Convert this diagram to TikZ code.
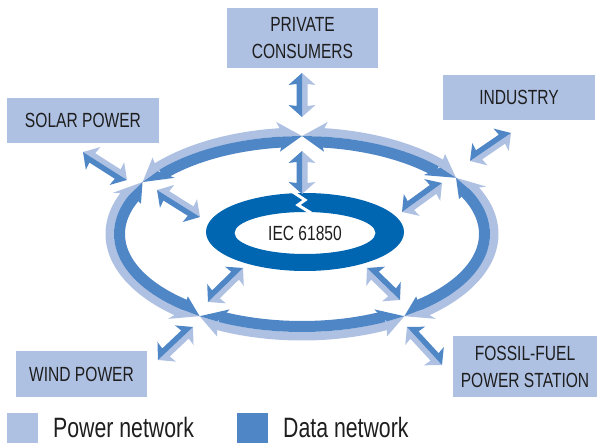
\documentclass[tikz,border=0pt]{standalone}
\usepackage{fontspec}
\setmainfont{Liberation Sans}[FakeStretch=0.76]
\usetikzlibrary{calc}
\definecolor{pw}{HTML}{AFC1E3}
\definecolor{dn}{HTML}{4F86C6}
\definecolor{iec}{HTML}{0066B1}
\definecolor{ink}{HTML}{1E1E1E}
\tikzset{
  lbl/.style={fill=pw, text=ink, inner sep=0pt, align=center, font=\fontsize{20.5bp}{27bp}\selectfont},
  legendtext/.style={anchor=base west, text=ink, inner sep=0pt, font=\fontsize{28bp}{30bp}\selectfont},
}
% two-tone double arrow: light on the right when facing from #1 to #2
\newcommand{\duoarrow}[2]{%
  \fill[pw] (#1) -- ($(#1)!12bp!(#2)!13.5bp!-90:(#2)$) -- ($(#1)!11bp!(#2)!5.5bp!-90:(#2)$)
    -- ($(#2)!11bp!(#1)!5.5bp!90:(#1)$) -- ($(#2)!12bp!(#1)!13.5bp!90:(#1)$) -- (#2) -- cycle;
  \fill[dn] (#1) -- ($(#1)!12bp!(#2)!13.5bp!90:(#2)$) -- ($(#1)!11bp!(#2)!5.5bp!90:(#2)$)
    -- ($(#2)!11bp!(#1)!5.5bp!-90:(#1)$) -- ($(#2)!12bp!(#1)!13.5bp!-90:(#1)$) -- (#2) -- cycle;
}
% ring shaft between two angles
\newcommand{\ringarc}[2]{%
  \draw[pw, line width=8.5bp] plot[domain=#1:#2, samples=50] ({302+192.25*cos(\x)},{234+102.25*sin(\x)});
  \draw[dn, line width=11bp] plot[domain=#1:#2, samples=50] ({302+182.5*cos(\x)},{234+92.5*sin(\x)});
}
% ring arrow head: #1 tip angle, #2 back centre angle, #3 barb angle
\newcommand{\ringhead}[3]{%
  \fill[pw] ({302+188*cos(#1)},{234+98*sin(#1)}) -- ({302+203*cos(#3)},{234+113*sin(#3)})
    -- ({302+188*cos(#2)},{234+98*sin(#2)}) -- cycle;
  \fill[dn] ({302+188*cos(#1)},{234+98*sin(#1)}) -- ({302+173*cos(#3)},{234+83*sin(#3)})
    -- ({302+188*cos(#2)},{234+98*sin(#2)}) -- cycle;
}
\begin{document}
\begin{tikzpicture}[x=1bp, y=-1bp]
\useasboundingbox (0,0) rectangle (597,443);

% big ring (power + data network)
\ringarc{-84.5}{-42.7}
\ringarc{-27.3}{50.8}
\ringarc{63.2}{116.8}
\ringarc{129.2}{204.1}
\ringarc{219.9}{264.5}
\ringhead{-90}{-84.5}{-82.7}
\ringhead{-35}{-42.7}{-45.2}
\ringhead{-35}{-27.3}{-24.8}
\ringhead{57}{50.8}{48.7}
\ringhead{57}{63.2}{65.3}
\ringhead{123}{116.8}{114.7}
\ringhead{123}{129.2}{131.3}
\ringhead{212}{204.1}{201.4}
\ringhead{212}{219.9}{222.6}
\ringhead{270}{264.5}{262.7}

% IEC ring
\fill[iec, even odd rule] (305,232) ellipse [x radius=99bp, y radius=39bp]
  (305,233) ellipse [x radius=70.5bp, y radius=21bp];
\draw[white, line width=3bp, line join=miter] (293,192) -- (305,200) -- (298,205) -- (311,213);

% boxes
\node[lbl, minimum width=151bp, minimum height=60bp] (priv) at (302.5,38) {PRIVATE\\CONSUMERS};
\node[lbl, minimum width=152bp, minimum height=45bp] (ind) at (519,97.5) {INDUSTRY};
\node[lbl, minimum width=152bp, minimum height=45bp] (sol) at (83,120.5) {SOLAR POWER};
\node[lbl, minimum width=131bp, minimum height=46bp] (wind) at (81.5,374) {WIND POWER};
\node[lbl, minimum width=144bp, minimum height=61bp] (foss) at (525,366.5) {FOSSIL-FUEL\\POWER STATION};
\node[text=ink, inner sep=0pt, font=\fontsize{20.5bp}{24bp}\selectfont] (iecl) at (305,233) {IEC 61850};

% spoke arrow end points
\coordinate (a1) at (302,117); \coordinate (b1) at (302,73);
\coordinate (a2) at (302,194); \coordinate (b2) at (302,151);
\coordinate (a3) at (127,180); \coordinate (b3) at (83,152);
\coordinate (a4) at (200,217); \coordinate (b4) at (157,190);
\coordinate (a5) at (470,161); \coordinate (b5) at (511,133);
\coordinate (a6) at (402,212); \coordinate (b6) at (442,183);
\coordinate (a7) at (243,268); \coordinate (b7) at (208,302);
\coordinate (a8) at (367,268); \coordinate (b8) at (400,300);
\coordinate (a9) at (193,327); \coordinate (b9) at (158,360);
\coordinate (a10) at (407,327); \coordinate (b10) at (442,365);
\duoarrow{a1}{b1}
\duoarrow{a2}{b2}
\duoarrow{a3}{b3}
\duoarrow{a4}{b4}
\duoarrow{a5}{b5}
\duoarrow{a6}{b6}
\duoarrow{b7}{a7}
\duoarrow{a8}{b8}
\duoarrow{b9}{a9}
\duoarrow{a10}{b10}

% legend
\fill[pw] (7,413) rectangle (38,443);
\node[legendtext] (lp) at (53,437) {Power network};
\fill[dn] (237,413) rectangle (268,443);
\node[legendtext] (ld) at (283,437) {Data network};
\end{tikzpicture}
\end{document}
